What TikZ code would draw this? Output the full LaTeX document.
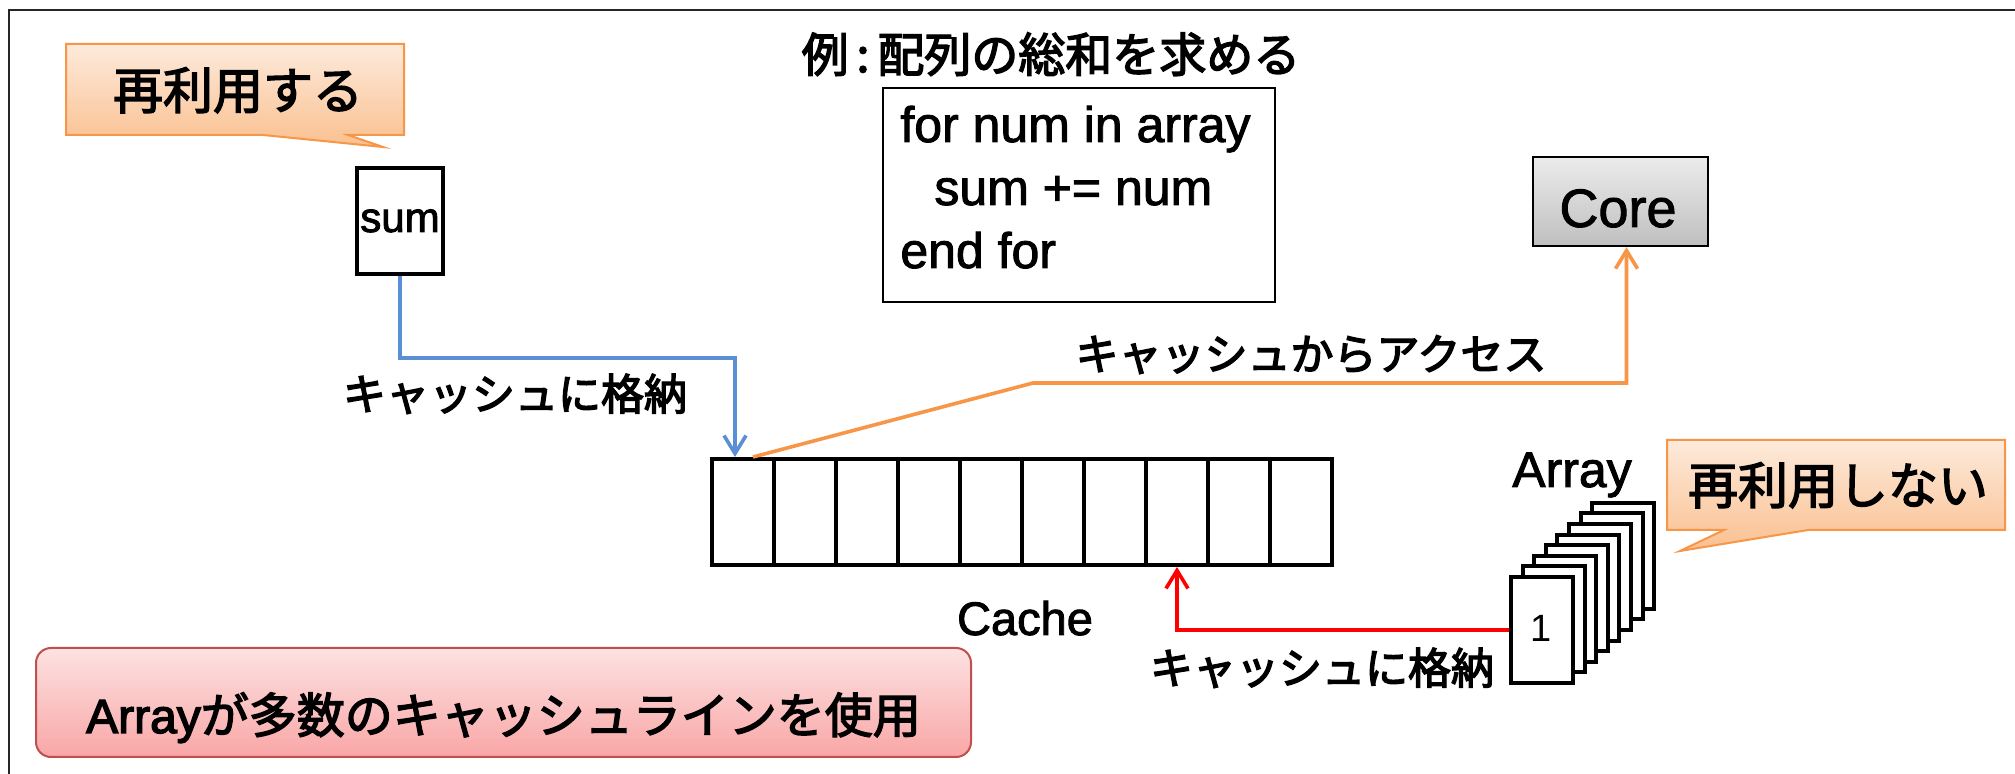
\documentclass[tikz,border=0pt]{standalone}
\usepackage{fontspec}
\setmainfont{Liberation Sans}
\newfontfamily\jp{Noto Sans CJK JP}
\usetikzlibrary{arrows.meta}
\definecolor{cblue}{HTML}{5B8FD5}
\definecolor{corange}{HTML}{F79646}
\definecolor{cred}{HTML}{FF0000}
\definecolor{peachtop}{HTML}{FDEADB}
\definecolor{peachbot}{HTML}{FAC090}
\definecolor{pinktop}{HTML}{FDE2E2}
\definecolor{pinkbot}{HTML}{F9A6A6}
\definecolor{pinkborder}{HTML}{C0504D}
\definecolor{greytop}{HTML}{ECECEC}
\definecolor{greybot}{HTML}{BFBFBF}
\tikzset{
  lbl/.style={inner sep=0pt, anchor=base},
  heavy/.style={execute at begin node={\special{pdf:literal direct 2 Tr 0.7 w 0 G}},
                execute at end node={\special{pdf:literal direct 0 Tr}}},
  semiheavy/.style={execute at begin node={\special{pdf:literal direct 2 Tr 0.45 w 0 G}},
                execute at end node={\special{pdf:literal direct 0 Tr}}},
  thickbox/.style={draw=black, line width=2pt, fill=white, inner sep=0pt},
  cell/.style={thickbox, minimum width=31pt, minimum height=53pt},
  card/.style={thickbox, minimum width=31pt, minimum height=53pt},
  conn/.style={line width=1.8pt, -{Straight Barb[length=9pt,width=11pt]}},
  callout/.style={draw=corange, line width=1pt, top color=peachtop, bottom color=peachbot},
  jpbig/.style={heavy, font=\jp\fontsize{25pt}{30pt}\selectfont},
  jplbl/.style={heavy, font=\jp\fontsize{21.5pt}{26pt}\selectfont},
  codeline/.style={semiheavy, inner sep=0pt, anchor=base west, font=\fontsize{25pt}{30pt}\selectfont},
}
\begin{document}
\begin{tikzpicture}[x=0.5pt,y=-0.5pt]
\useasboundingbox (0,0) rectangle (2015,774);
\fill[white] (0,0) rectangle (2015,774);
% outer frame
\draw[line width=1pt, black!85] (9,774) -- (9,10) -- (2015,10);

% callout 1
\draw[callout] (66,44) -- (404,44) -- (404,135) -- (348,135) -- (383,147) -- (263,135) -- (66,135) -- cycle;
\node[lbl, jpbig] (reuse) at (238,109) {再利用する};

% title and code
\node[lbl, heavy, font=\jp\fontsize{23.5pt}{28pt}\selectfont] (title) at (1051,72) {例\,:\,配列の総和を求める};
\node[draw=black, line width=0.8pt, minimum width=196pt, minimum height=107pt, inner sep=0pt] (code) at (1079,195) {};
\node[codeline] (l1) at (900,142) {for num in array};
\node[codeline] (l2) at (934,205) {sum += num};
\node[codeline] (l3) at (900,268) {end for};

% sum
\node[thickbox, line width=2.4pt, minimum width=43pt, minimum height=53pt] (sum) at (400,221) {};
\node[lbl, semiheavy, font=\fontsize{21pt}{25pt}\selectfont] (sumt) at (400,232) {sum};

% core
\node[draw=black, line width=1.2pt, top color=greytop, bottom color=greybot, minimum width=87.5pt, minimum height=44.5pt, inner sep=0pt] (core) at (1620.5,201.5) {};
\node[lbl, semiheavy, font=\fontsize{27pt}{32pt}\selectfont] (coret) at (1618,227) {Core};

% cache cells
\foreach \i in {1,...,10} {
  \node[cell] (c\i) at ({681+62*\i},512) {};
}
\node[lbl, semiheavy, font=\fontsize{23.5pt}{28pt}\selectfont] (cachet) at (1025,635) {Cache};

% array cards
\foreach \k in {7,6,...,0} {
  \node[card] (card\k) at ({1542+11.6*\k},{630-10.6*\k}) {};
}
\node[lbl, font=\fontsize{19pt}{23pt}\selectfont] (one) at (1541,642) {1};
\node[lbl, semiheavy, font=\fontsize{25pt}{30pt}\selectfont] (arrayt) at (1572,487) {Array};

% callout 2
\draw[callout] (1667,440) -- (2005,440) -- (2005,530) -- (1808,530) -- (1680,551) -- (1724,530) -- (1667,530) -- cycle;
\node[lbl, jpbig] (noreuse) at (1838,504) {再利用しない};

% bottom red box
\node[draw=pinkborder, line width=1pt, rounded corners=7.5pt, top color=pinktop, bottom color=pinkbot, minimum width=467.5pt, minimum height=54.5pt, inner sep=0pt] (many) at (503.5,702.5) {};
\node[lbl, heavy, font=\fontsize{24pt}{29pt}\selectfont] (manyt) at (503.5,733) {Array\jp が多数のキャッシュラインを使用};

% connectors
\coordinate (b1) at (735,358);
\draw[conn, cblue] (sum.south) |- (b1) -- (b1 |- c1.north);
\node[lbl, jplbl] (store1) at (515,410) {キャッシュに格納};

\coordinate (o1) at (1033,383);
\draw[conn, corange] ([xshift=5pt]c1.north) -- (o1) -| ([xshift=3pt]core.south);
\node[lbl, jplbl] (access) at (1311,370) {キャッシュからアクセス};

\draw[conn, cred] (card0.west) -| (c8.south);
\node[lbl, jplbl] (store2) at (1322,684) {キャッシュに格納};
\end{tikzpicture}
\end{document}
